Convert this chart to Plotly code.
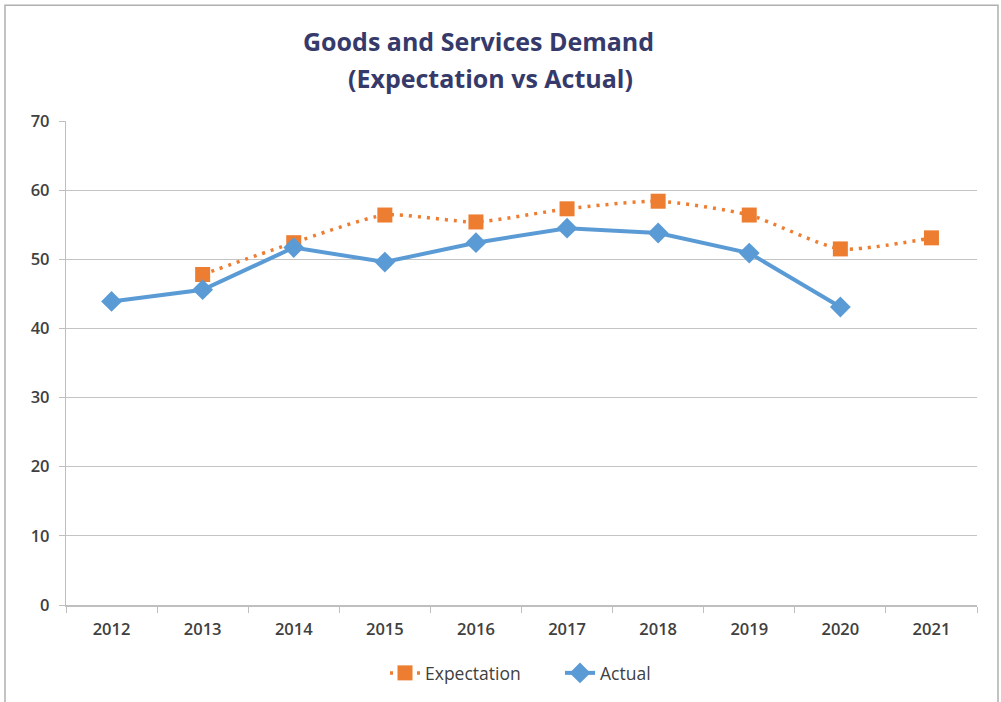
import plotly.graph_objects as go

years = ["2012", "2013", "2014", "2015", "2016", "2017", "2018", "2019", "2020", "2021"]
expectation = [None, 47.8, 52.4, 56.4, 55.4, 57.3, 58.4, 56.4, 51.5, 53.1]
actual = [43.9, 45.6, 51.7, 49.6, 52.4, 54.5, 53.8, 50.9, 43.1, None]
y_ticks = [0, 10, 20, 30, 40, 50, 60, 70]
title_lines = ["Goods and Services Demand", "(Expectation vs Actual)"]

xidx = list(range(len(years)))

W, H = 1001, 702
L, R, T, B = 66, 24, 121, 96
pw, ph = W - L - R, H - T - B
FONT = "Open Sans, sans-serif"

def px_x(x):
    return (x - L) / pw

def px_y(y):
    return (H - B - y) / ph

fig = go.Figure()
fig.add_trace(go.Scatter(
    x=xidx, y=expectation, name="Expectation", mode="lines+markers",
    line=dict(color="#ED7D31", width=3.5, dash="3px,6px", shape="spline", smoothing=0.6),
    marker=dict(symbol="square", size=15, color="#ED7D31"),
    connectgaps=False,
))
fig.add_trace(go.Scatter(
    x=xidx, y=actual, name="Actual", mode="lines+markers",
    line=dict(color="#5B9BD5", width=4),
    marker=dict(symbol="diamond", size=16, color="#5B9BD5"),
))

tick_font = dict(size=16.5, color="#404040", family=FONT, weight=600)
title_font = dict(size=25, color="#363a6b", family=FONT, weight=700)

fig.update_layout(
    width=W, height=H,
    margin=dict(l=L, r=R, t=T, b=B),
    paper_bgcolor="white", plot_bgcolor="white",
    font=dict(family=FONT, color="#404040"),
    showlegend=True,
    legend=dict(
        orientation="h", x=px_x(385), xanchor="left", y=px_y(673), yanchor="middle",
        font=dict(size=17.5, color="#404040", family=FONT, weight=500),
        entrywidth=130, entrywidthmode="pixels",
    ),
    xaxis=dict(
        range=[-0.5, 9.5], tickmode="array", tickvals=xidx, ticktext=years,
        showgrid=False, ticks="", showline=True, linecolor="#bfbfbf", linewidth=1.5,
        tickfont=tick_font,
        minor=dict(ticks="outside", tick0=-0.5, dtick=1, ticklen=6, tickcolor="#bfbfbf", tickwidth=1, showgrid=False),
        zeroline=False, fixedrange=True, ticklabelstandoff=8,
    ),
    yaxis=dict(
        range=[0, 70], tickmode="array", tickvals=y_ticks,
        showgrid=True, gridcolor="#c4c4c4", gridwidth=1.3,
        ticks="outside", ticklen=6, tickcolor="#bfbfbf",
        showline=True, linecolor="#bfbfbf", linewidth=1.3,
        tickfont=tick_font,
        zeroline=False, ticklabelstandoff=6,
    ),
    annotations=[
        dict(text=title_lines[0], xref="paper", yref="paper", x=px_x(478), y=px_y(41),
             xanchor="center", yanchor="middle", showarrow=False, font=title_font),
        dict(text=title_lines[1], xref="paper", yref="paper", x=px_x(490), y=px_y(78),
             xanchor="center", yanchor="middle", showarrow=False, font=title_font),
    ],
    shapes=[dict(
        type="rect", xref="paper", yref="paper",
        x0=px_x(5), x1=px_x(998), y0=px_y(715), y1=px_y(5),
        line=dict(color="#b0b0b0", width=1.5), fillcolor="rgba(0,0,0,0)", layer="below",
    )],
)

fig.write_html(
    "out.html",
    config={"displayModeBar": False},
    post_script="document.body.style.margin='0';document.body.style.overflow='hidden';",
)
